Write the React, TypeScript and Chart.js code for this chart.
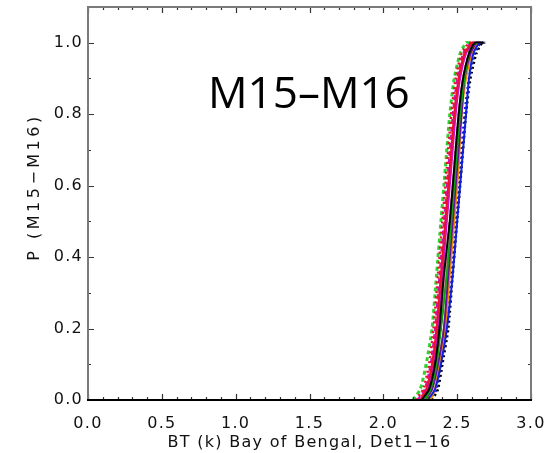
import React, { useEffect, useRef } from "react";
import { Chart, registerables } from "chart.js";

Chart.register(...registerables);

// Cumulative probability levels shared by all detectors (last point = flat top)
const probLevels = [0, 0.03, 0.1, 0.2, 0.35, 0.5, 0.65, 0.8, 0.9, 0.97, 1.0, 1.0];

// Brightness temperature (K) at each probability level, detectors 1-16
const det1 = [2.26, 2.31, 2.35, 2.38, 2.41, 2.45, 2.48, 2.51, 2.54, 2.58, 2.62, 2.68];
const det2 = [2.25, 2.29, 2.33, 2.36, 2.39, 2.42, 2.45, 2.48, 2.51, 2.55, 2.60, 2.62];
const det3 = [2.28, 2.32, 2.36, 2.39, 2.43, 2.46, 2.49, 2.52, 2.55, 2.58, 2.62, 2.64];
const det4 = [2.30, 2.35, 2.39, 2.43, 2.47, 2.50, 2.53, 2.56, 2.58, 2.61, 2.65, 2.67];
const det5 = [2.26, 2.30, 2.34, 2.37, 2.40, 2.43, 2.46, 2.49, 2.52, 2.56, 2.61, 2.63];
const det6 = [2.28, 2.33, 2.37, 2.41, 2.44, 2.47, 2.50, 2.53, 2.55, 2.59, 2.63, 2.65];
const det7 = [2.32, 2.35, 2.38, 2.42, 2.45, 2.48, 2.51, 2.53, 2.56, 2.60, 2.64, 2.66];
const det8 = [2.29, 2.33, 2.37, 2.41, 2.44, 2.47, 2.50, 2.52, 2.55, 2.59, 2.63, 2.65];
const det9 = [2.27, 2.31, 2.35, 2.38, 2.42, 2.45, 2.48, 2.51, 2.54, 2.58, 2.62, 2.64];
const det10 = [2.33, 2.37, 2.40, 2.44, 2.47, 2.50, 2.53, 2.56, 2.59, 2.63, 2.67, 2.69];
const det11 = [2.22, 2.27, 2.31, 2.34, 2.37, 2.40, 2.43, 2.46, 2.49, 2.53, 2.58, 2.60];
const det12 = [2.20, 2.25, 2.29, 2.33, 2.36, 2.39, 2.42, 2.45, 2.48, 2.52, 2.56, 2.58];
const det13 = [2.31, 2.36, 2.39, 2.43, 2.46, 2.49, 2.52, 2.55, 2.58, 2.62, 2.66, 2.68];
const det14 = [2.23, 2.28, 2.32, 2.35, 2.38, 2.41, 2.44, 2.47, 2.50, 2.54, 2.59, 2.61];
const det15 = [2.27, 2.32, 2.35, 2.39, 2.42, 2.45, 2.48, 2.51, 2.54, 2.58, 2.62, 2.64];
const det16 = [2.24, 2.29, 2.33, 2.36, 2.39, 2.42, 2.45, 2.48, 2.51, 2.55, 2.60, 2.62];

const detectorNames = [
  "Det1", "Det2", "Det3", "Det4", "Det5", "Det6", "Det7", "Det8",
  "Det9", "Det10", "Det11", "Det12", "Det13", "Det14", "Det15", "Det16",
];
const detectorValues = [
  det1, det2, det3, det4, det5, det6, det7, det8,
  det9, det10, det11, det12, det13, det14, det15, det16,
];

// Axis ticks
const xTicks = [0, 0.5, 1.0, 1.5, 2.0, 2.5, 3.0];
const yTicks = [0, 0.2, 0.4, 0.6, 0.8, 1.0];
const xMinorStep = 0.1;
const yMinorStep = 0.1;

const xTitle = "BT (k) Bay of Bengal, Det1\u221216";
const yTitle = "P (M15\u2212M16)";
const annotation = "M15\u2013M16";

// Styles per detector
const lineColors = [
  "#000000", "#e8102a", "#10a010", "#1020e0", "#d010c0", "#6a10a0", "#f08a00", "#c8b400",
  "#f090b0", "#000000", "#e8102a", "#30d030", "#1020e0", "#d010c0", "#6a10a0", "#8a4a10",
];
const lineDashes: number[][] = [
  [], [], [], [], [], [], [], [],
  [], [2, 3], [2, 3], [4, 3], [2, 3], [5, 3], [5, 3], [2, 3],
];
const lineWidths = [2, 2, 2, 2, 2, 2, 2, 2, 2, 2.5, 2.5, 3, 2.5, 2, 2, 2];

const spacing = {
  id: "spacing",
  beforeDraw(chart: any) {
    chart.ctx.letterSpacing = "1.3px";
  },
  afterDraw(chart: any) {
    chart.ctx.letterSpacing = "0px";
  },
};

const frameAndTicks = {
  id: "frameAndTicks",
  afterDatasetsDraw(chart: any) {
    const { ctx, chartArea } = chart;
    const { left, right, top, bottom } = chartArea;
    const xs = chart.scales.x;
    const ys = chart.scales.y;
    ctx.save();
    ctx.letterSpacing = "0px";
    ctx.lineWidth = 1.2;
    ctx.strokeStyle = "#333";
    for (let v = 0; v <= 3.0001; v += xMinorStep) {
      const major = Math.abs(v * 2 - Math.round(v * 2)) < 1e-6;
      const len = major ? 6 : 3;
      const px = Math.round(xs.getPixelForValue(v)) + 0.5;
      ctx.beginPath();
      ctx.moveTo(px, bottom);
      ctx.lineTo(px, bottom - len);
      ctx.moveTo(px, top);
      ctx.lineTo(px, top + len);
      ctx.stroke();
    }
    for (let v = 0; v <= 1.0001; v += yMinorStep) {
      const major = Math.abs(v * 5 - Math.round(v * 5)) < 1e-6;
      const len = major ? 6 : 3;
      const py = Math.round(ys.getPixelForValue(v)) + 0.5;
      ctx.beginPath();
      ctx.moveTo(left, py);
      ctx.lineTo(left + len, py);
      ctx.moveTo(right, py);
      ctx.lineTo(right - len, py);
      ctx.stroke();
    }
    ctx.lineWidth = 2;
    ctx.strokeStyle = "#7a7a7a";
    ctx.beginPath();
    ctx.moveTo(left, bottom);
    ctx.lineTo(left, top);
    ctx.lineTo(right, top);
    ctx.lineTo(right, bottom);
    ctx.stroke();
    ctx.strokeStyle = "#000";
    ctx.beginPath();
    ctx.moveTo(left - 1, bottom);
    ctx.lineTo(right + 1, bottom);
    ctx.stroke();
    // annotation
    ctx.fillStyle = "#000";
    ctx.font = "44px 'Open Sans', sans-serif";
    ctx.textAlign = "left";
    ctx.textBaseline = "alphabetic";
    ctx.fillText(annotation, 208, 108);
    // y-axis title
    ctx.letterSpacing = "3.5px";
    ctx.font = "16px 'DejaVu Sans', sans-serif";
    ctx.fillStyle = "#111";
    ctx.translate(35, 189);
    ctx.rotate(-Math.PI / 2);
    ctx.textAlign = "center";
    ctx.textBaseline = "middle";
    ctx.fillText(yTitle, 2, 0);
    ctx.restore();
  },
};

export default function App() {
  const ref = useRef<HTMLCanvasElement | null>(null);
  useEffect(() => {
    if (!ref.current) return;
    const datasets = detectorValues.map((vals, i) => ({
      label: detectorNames[i],
      data: vals.map((x, j) => ({ x, y: probLevels[j] })),
      showLine: true,
      borderColor: lineColors[i],
      backgroundColor: lineColors[i],
      borderWidth: lineWidths[i],
      borderDash: lineDashes[i],
      pointRadius: 0,
      tension: 0.2,
      fill: false,
    }));
    const tickFont = { family: "'DejaVu Sans', sans-serif", size: 16 };
    const chart = new Chart(ref.current, {
      type: "scatter",
      data: { datasets },
      options: {
        animation: false,
        responsive: false,
        maintainAspectRatio: false,
        layout: { padding: { left: 0, right: 24, top: 7, bottom: 0 } },
        plugins: { legend: { display: false }, tooltip: { enabled: false } },
        scales: {
          x: {
            type: "linear",
            min: 0,
            max: 3.0,
            grid: { display: false, drawTicks: false },
            border: { display: false },
            afterBuildTicks: (s: any) => {
              s.ticks = xTicks.map((v) => ({ value: v }));
            },
            afterFit: (s: any) => {
              s.height = 53;
              s.paddingLeft = 0;
              s.paddingRight = 0;
            },
            ticks: {
              padding: 14,
              color: "#111",
              font: tickFont,
              maxRotation: 0,
              callback: (v: any) => Number(v).toFixed(1),
            },
            title: {
              display: true,
              text: xTitle,
              color: "#111",
              font: { family: "'DejaVu Sans', sans-serif", size: 16 },
              padding: { top: 0, bottom: 1 },
            },
          },
          y: {
            type: "linear",
            min: 0,
            max: 1.1,
            grid: { display: false, drawTicks: false },
            border: { display: false },
            afterBuildTicks: (s: any) => {
              s.ticks = yTicks.map((v) => ({ value: v }));
            },
            afterFit: (s: any) => {
              s.width = 88;
              s.paddingTop = 0;
              s.paddingBottom = 0;
            },
            ticks: {
              padding: 5,
              color: "#111",
              font: tickFont,
              callback: (v: any) => Number(v).toFixed(1),
            },
            title: { display: false, text: yTitle },
          },
        },
      },
      plugins: [spacing, frameAndTicks],
    } as any);
    return () => chart.destroy();
  }, []);
  return (
    <div style={{ position: "fixed", left: 0, top: 0, width: 555, height: 453, background: "#fff" }}>
      <canvas ref={ref} width={555} height={453} style={{ width: 555, height: 453 }} />
    </div>
  );
}
